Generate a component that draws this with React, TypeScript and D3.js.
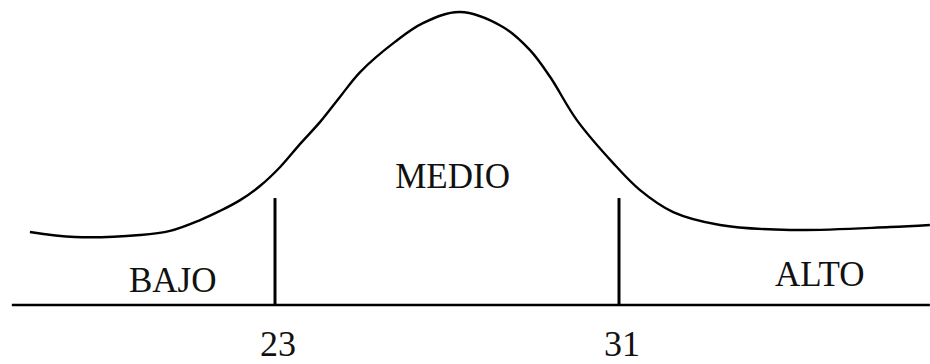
import * as d3 from "d3";

// curve: x value, height (0..100 of peak)
const curveX = [17.3, 18.35, 19.86, 20.56, 21.26, 21.72, 22.19, 22.65, 23.12, 23.58, 24.05, 24.51, 24.98, 25.79, 26.44, 27.3, 28.3, 28.93, 29.4, 30.02, 30.86, 31.49, 32.26, 33.35, 34.98, 37.3, 38.23];
const curveY = [24.9, 23.2, 23.9, 25.3, 29.0, 32.1, 35.8, 40.6, 47.1, 54.9, 62.5, 71.0, 79.5, 89.8, 96.2, 100, 94.9, 87.0, 77.8, 63.1, 48.5, 39.2, 31.7, 27.3, 25.6, 26.6, 27.3];

const cuts = [23, 31];
const cutLabels = ["23", "31"];
const cutHeight = 36.5;

const zones = ["BAJO", "MEDIO", "ALTO"];
const zoneX = [20.62, 27.13, 35.67];
const zoneY = [4.4, 39.9, 6.5];

const axisRange = [16.88, 38.23];

const W = 930;
const H = 364;

export default function App() {
  const x = d3.scaleLinear().domain([23, 31]).range([275, 619]);
  const y = d3.scaleLinear().domain([0, 100]).range([305, 12]);

  const line = d3
    .line<number>()
    .x((_, i) => x(curveX[i]))
    .y((d) => y(d))
    .curve(d3.curveCatmullRom.alpha(0.5));

  const font = "'Liberation Serif', 'Times New Roman', serif";

  return (
    <svg
      width={W}
      height={H}
      style={{ position: "absolute", left: 0, top: 0, background: "#fff" }}
    >
      {/* base line */}
      <line
        x1={x(axisRange[0])}
        x2={x(axisRange[1])}
        y1={y(0)}
        y2={y(0)}
        stroke="#000"
        strokeWidth={2.5}
      />

      {/* cut lines */}
      {cuts.map((c) => (
        <line
          key={c}
          x1={x(c)}
          x2={x(c)}
          y1={y(0)}
          y2={y(cutHeight)}
          stroke="#000"
          strokeWidth={3}
        />
      ))}

      {/* bell curve */}
      <path d={line(curveY) ?? ""} fill="none" stroke="#000" strokeWidth={2.4} />

      {/* zone labels */}
      {zones.map((z, i) => (
        <text
          key={z}
          x={x(zoneX[i])}
          y={y(zoneY[i])}
          textAnchor="middle"
          fontFamily={font}
          fontSize={35}
          fill="#111"
        >
          {z}
        </text>
      ))}

      {/* cut values */}
      {cuts.map((c, i) => (
        <text
          key={c}
          x={x(c) + 3}
          y={356}
          textAnchor="middle"
          fontFamily={font}
          fontSize={36}
          fill="#111"
        >
          {cutLabels[i]}
        </text>
      ))}
    </svg>
  );
}
